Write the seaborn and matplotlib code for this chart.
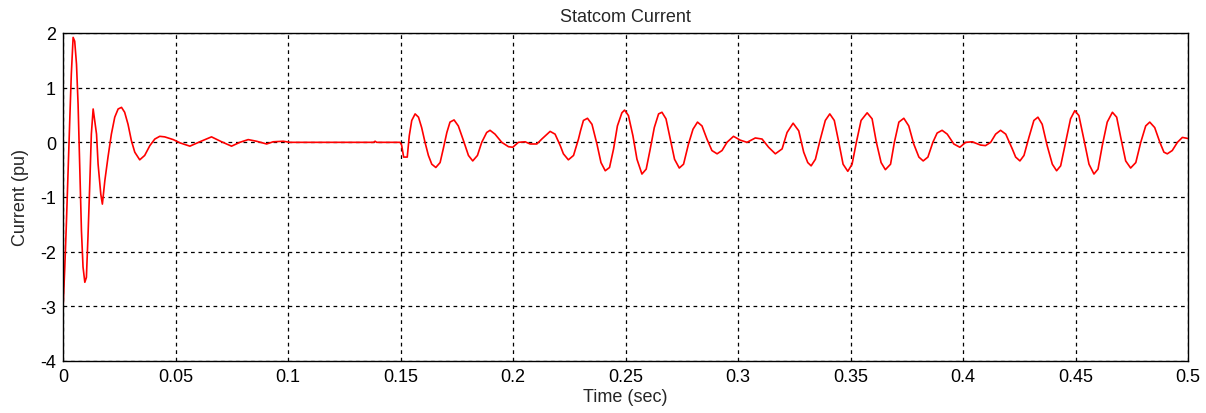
import matplotlib
matplotlib.use("Agg")
import matplotlib.pyplot as plt
import seaborn as sns
import pandas as pd

time_s = [
    0.0000, 0.0008, 0.0015, 0.0022, 0.0030, 0.0037, 0.0045, 0.0052, 0.0060, 0.0067,
    0.0074, 0.0082, 0.0089, 0.0097, 0.0104, 0.0111, 0.0119, 0.0126, 0.0134, 0.0141,
    0.0149, 0.0156, 0.0168, 0.0175, 0.0186, 0.0200, 0.0215, 0.0230, 0.0245, 0.0260,
    0.0274, 0.0289, 0.0304, 0.0319, 0.0341, 0.0363, 0.0386, 0.0408, 0.0430, 0.0452,
    0.0475, 0.0490, 0.0520, 0.0564, 0.0608, 0.0660, 0.0705, 0.0749, 0.0786, 0.0823,
    0.0860, 0.0905, 0.0934, 0.0979, 0.1008, 0.1380, 0.1387, 0.1394, 0.1498, 0.1505,
    0.1514, 0.1530, 0.1539, 0.1550, 0.1565, 0.1580, 0.1594, 0.1609, 0.1624, 0.1639,
    0.1657, 0.1676, 0.1690, 0.1706, 0.1720, 0.1738, 0.1757, 0.1780, 0.1802, 0.1821,
    0.1842, 0.1861, 0.1883, 0.1898, 0.1920, 0.1950, 0.1980, 0.1999, 0.2024, 0.2054,
    0.2076, 0.2106, 0.2128, 0.2165, 0.2187, 0.2210, 0.2224, 0.2246, 0.2269, 0.2291,
    0.2300, 0.2313, 0.2331, 0.2351, 0.2373, 0.2391, 0.2410, 0.2429, 0.2447, 0.2464,
    0.2484, 0.2496, 0.2513, 0.2533, 0.2551, 0.2573, 0.2592, 0.2610, 0.2628, 0.2647,
    0.2662, 0.2680, 0.2699, 0.2718, 0.2739, 0.2758, 0.2780, 0.2800, 0.2820, 0.2840,
    0.2862, 0.2884, 0.2907, 0.2929, 0.2951, 0.2980, 0.3010, 0.3040, 0.3077, 0.3107,
    0.3136, 0.3166, 0.3196, 0.3218, 0.3245, 0.3270, 0.3292, 0.3310, 0.3325, 0.3344,
    0.3366, 0.3388, 0.3408, 0.3428, 0.3448, 0.3467, 0.3488, 0.3507, 0.3526, 0.3547,
    0.3574, 0.3596, 0.3615, 0.3636, 0.3655, 0.3678, 0.3695, 0.3715, 0.3737, 0.3759,
    0.3781, 0.3804, 0.3823, 0.3844, 0.3866, 0.3885, 0.3907, 0.3930, 0.3959, 0.3986,
    0.4012, 0.4041, 0.4078, 0.4100, 0.4123, 0.4145, 0.4167, 0.4190, 0.4219, 0.4234,
    0.4253, 0.4271, 0.4293, 0.4315, 0.4333, 0.4352, 0.4374, 0.4397, 0.4416, 0.4434,
    0.4456, 0.4478, 0.4497, 0.4515, 0.4537, 0.4560, 0.4582, 0.4600, 0.4619, 0.4641,
    0.4664, 0.4683, 0.4701, 0.4723, 0.4745, 0.4768, 0.4790, 0.4812, 0.4830, 0.4852,
    0.4875, 0.4893, 0.4908, 0.4930, 0.4953, 0.4975, 0.5000,
]
current_pu = [
    -3.05, -2.28, -1.49, -0.58, 0.40, 1.25, 1.92, 1.85, 1.43, 0.70,
    -0.40, -1.62, -2.28, -2.56, -2.47, -1.73, -0.76, 0.15, 0.61, 0.40,
    0.15, -0.40, -0.95, -1.13, -0.70, -0.27, 0.15, 0.46, 0.61, 0.64,
    0.55, 0.33, 0.03, -0.18, -0.32, -0.24, -0.06, 0.06, 0.11, 0.10,
    0.07, 0.05, -0.01, -0.07, 0.01, 0.10, 0.01, -0.07, 0.00, 0.05,
    0.02, -0.03, 0.01, 0.02, 0.00, 0.00, 0.02, 0.00, 0.00, -0.05,
    -0.27, -0.27, 0.12, 0.40, 0.52, 0.46, 0.27, 0.00, -0.24, -0.40,
    -0.46, -0.37, -0.12, 0.18, 0.37, 0.41, 0.30, 0.03, -0.24, -0.34,
    -0.24, 0.00, 0.18, 0.22, 0.15, 0.00, -0.08, -0.09, 0.00, 0.01,
    -0.03, -0.03, 0.06, 0.20, 0.15, -0.06, -0.21, -0.32, -0.24, 0.06,
    0.21, 0.40, 0.44, 0.33, -0.03, -0.37, -0.52, -0.46, -0.12, 0.30,
    0.54, 0.59, 0.49, 0.12, -0.31, -0.58, -0.49, -0.12, 0.27, 0.52,
    0.55, 0.43, 0.06, -0.31, -0.47, -0.40, -0.03, 0.24, 0.37, 0.30,
    0.06, -0.15, -0.21, -0.15, 0.00, 0.11, 0.04, 0.00, 0.08, 0.06,
    -0.09, -0.21, -0.12, 0.18, 0.35, 0.21, -0.18, -0.37, -0.43, -0.31,
    0.06, 0.40, 0.52, 0.40, 0.00, -0.40, -0.53, -0.40, 0.00, 0.40,
    0.54, 0.43, 0.00, -0.37, -0.50, -0.40, 0.00, 0.37, 0.44, 0.30,
    -0.03, -0.27, -0.34, -0.27, 0.00, 0.17, 0.22, 0.15, -0.03, -0.09,
    0.00, 0.01, -0.05, -0.06, 0.00, 0.15, 0.22, 0.15, -0.12, -0.27,
    -0.34, -0.24, 0.09, 0.40, 0.46, 0.33, -0.06, -0.40, -0.52, -0.43,
    0.00, 0.43, 0.58, 0.49, 0.06, -0.40, -0.58, -0.49, -0.06, 0.37,
    0.55, 0.46, 0.09, -0.34, -0.47, -0.37, 0.00, 0.30, 0.37, 0.27,
    0.00, -0.18, -0.21, -0.15, 0.00, 0.09, 0.07,
]

x_ticks = [0, 0.05, 0.1, 0.15, 0.2, 0.25, 0.3, 0.35, 0.4, 0.45, 0.5]
x_tick_labels = ["0", "0.05", "0.1", "0.15", "0.2", "0.25", "0.3", "0.35", "0.4", "0.45", "0.5"]
y_ticks = [-4, -3, -2, -1, 0, 1, 2]
y_tick_labels = ["-4", "-3", "-2", "-1", "0", "1", "2"]

df = pd.DataFrame({"t": time_s, "i": current_pu})

sns.set_style("white")
plt.rcParams["font.family"] = ["Liberation Sans", "DejaVu Sans"]
plt.rcParams["axes.unicode_minus"] = False

fig = plt.figure(figsize=(12.06, 4.14), dpi=100)
ax = fig.add_axes([63 / 1206, 1 - 362 / 414, (1188 - 63) / 1206, (362 - 34) / 414])

sns.lineplot(data=df, x="t", y="i", color="red", linewidth=1.2, estimator=None, sort=False, ax=ax)

ax.set_xlim(0, 0.5)
ax.set_ylim(-4, 2)
ax.set_xticks(x_ticks)
ax.set_xticklabels(x_tick_labels)
ax.set_yticks(y_ticks)
ax.set_yticklabels(y_tick_labels)
ax.grid(True, color="black", linestyle=(0, (3, 3)), linewidth=0.9)
ax.tick_params(direction="in", length=5, labelsize=13, colors="black", pad=5)
for s in ax.spines.values():
    s.set_color("black")
    s.set_linewidth(1.0)
    s.set_visible(True)

ax.set_xlabel("Time (sec)", fontsize=13, labelpad=2)
ax.set_ylabel("Current (pu)", fontsize=13, labelpad=8)
ax.set_title("Statcom Current", fontsize=13, pad=9)

fig.savefig("out.png", dpi=100, facecolor="white")
